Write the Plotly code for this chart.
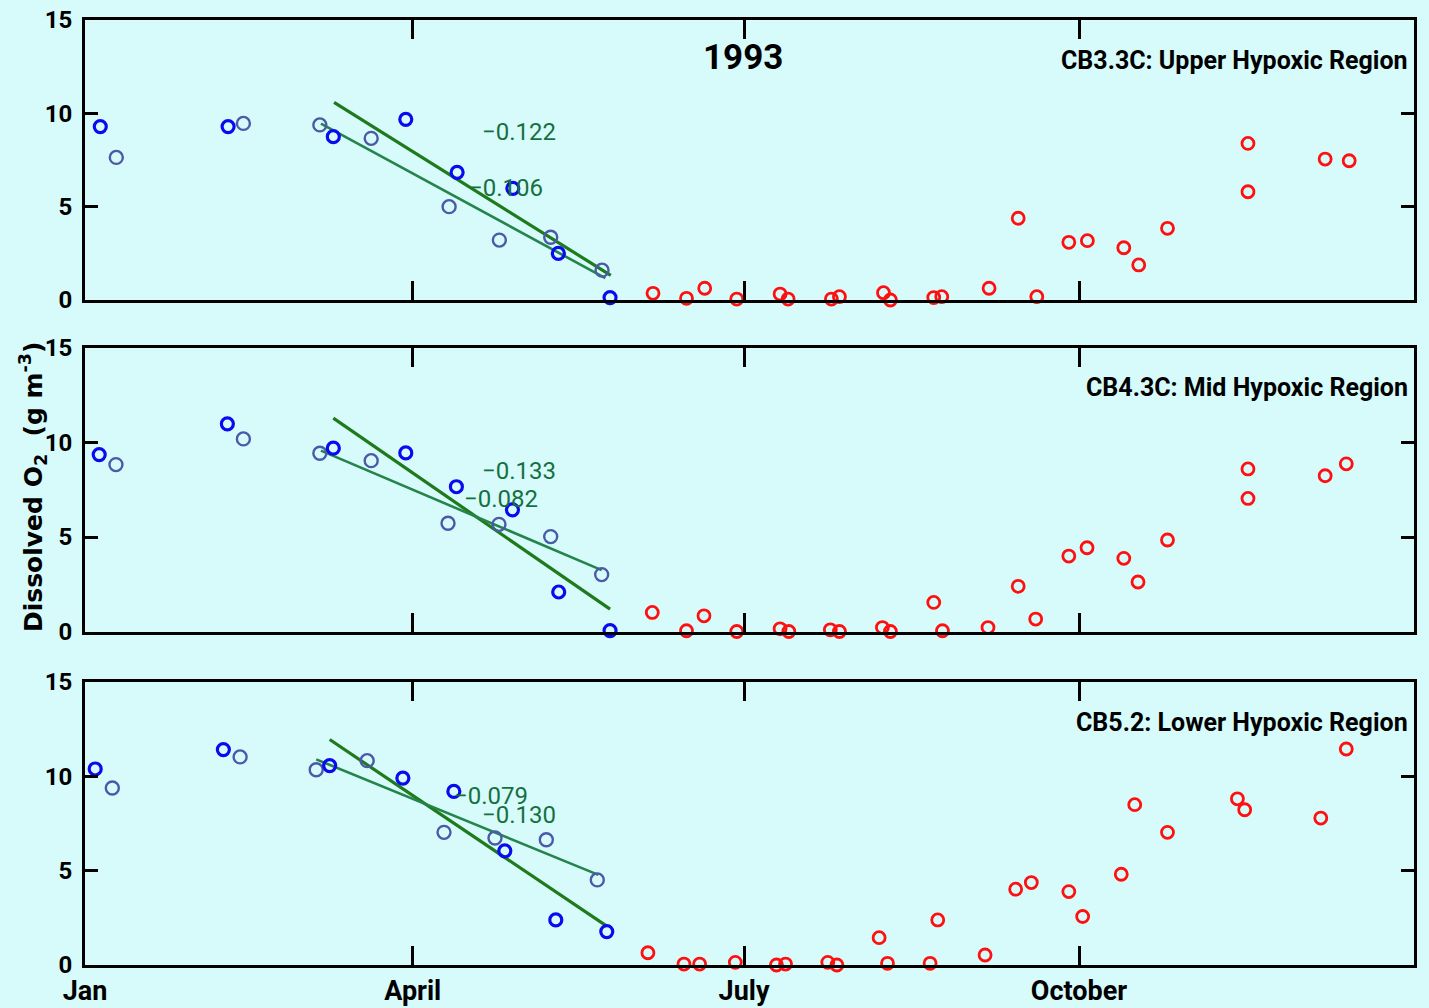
import pandas as pd
import plotly.graph_objects as go

# ---------------------------------------------------------------------------
# Dissolved O2 (g m-3) at three Chesapeake Bay stations, 1993.
# x values are days after 1 January 1993.
# "blue" and "slate" are the two spring sampling series, "red" the summer/autumn.
# ---------------------------------------------------------------------------

# CB3.3C: Upper Hypoxic Region
cb33_blue_day = [4.2, 39.3, 68.2, 88.1, 102.2, 117.5, 130.0, 144.2]
cb33_blue_o2 = [9.29, 9.29, 8.75, 9.68, 6.84, 5.98, 2.50, 0.13]
cb33_slate_day = [8.6, 43.5, 64.5, 78.6, 100.0, 113.8, 127.9, 142.0]
cb33_slate_o2 = [7.64, 9.46, 9.38, 8.66, 5.00, 3.21, 3.36, 1.60]
cb33_red_day = [156.0, 165.2, 170.2, 179.0, 190.9, 193.1, 205.0, 207.2, 219.3, 221.2,
                233.1, 235.3, 248.3, 256.3, 261.4, 270.2, 275.3, 285.3, 289.4, 297.3,
                319.4, 319.4, 340.6, 347.2]
cb33_red_o2 = [0.36, 0.09, 0.63, 0.05, 0.32, 0.05, 0.05, 0.18, 0.39, 0.0,
               0.13, 0.18, 0.63, 4.38, 0.18, 3.09, 3.18, 2.80, 1.88, 3.84,
               8.39, 5.80, 7.55, 7.46]
cb33_fit_slope = [-0.122, -0.106]
cb33_fit_start_o2 = [10.59, 9.45]
cb33_fit_start_day = [68.4, 64.8]
cb33_fit_end_day = [144.4, 142.9]

# CB4.3C: Mid Hypoxic Region
cb43_blue_day = [3.9, 39.1, 68.2, 88.1, 102.0, 117.4, 130.1, 144.2]
cb43_blue_o2 = [9.36, 10.99, 9.70, 9.45, 7.66, 6.44, 2.09, 0.05]
cb43_slate_day = [8.5, 43.5, 64.5, 78.6, 99.7, 113.7, 127.9, 141.9]
cb43_slate_o2 = [8.83, 10.19, 9.43, 9.04, 5.73, 5.67, 5.02, 3.01]
cb43_red_day = [155.8, 165.2, 170.0, 179.0, 190.9, 193.3, 204.7, 207.2, 219.0, 221.2,
                233.1, 235.5, 248.0, 256.3, 261.1, 270.2, 275.2, 285.3, 289.2, 297.3,
                319.4, 319.4, 340.6, 346.4]
cb43_red_o2 = [1.01, 0.04, 0.83, 0.0, 0.14, 0.0, 0.09, 0.0, 0.21, 0.0,
               1.54, 0.04, 0.21, 2.39, 0.66, 3.99, 4.43, 3.87, 2.62, 4.84,
               8.60, 7.04, 8.24, 8.87]
cb43_fit_slope = [-0.133, -0.082]
cb43_fit_start_o2 = [11.29, 9.57]
cb43_fit_start_day = [68.2, 64.8]
cb43_fit_end_day = [144.2, 141.9]

# CB5.2: Lower Hypoxic Region
cb52_blue_day = [2.8, 38.0, 67.2, 87.3, 101.3, 115.3, 129.3, 143.3]
cb52_blue_o2 = [10.39, 11.42, 10.57, 9.91, 9.20, 6.05, 2.39, 1.77]
cb52_slate_day = [7.5, 42.6, 63.5, 77.5, 98.6, 112.6, 126.7, 140.7]
cb52_slate_o2 = [9.38, 11.03, 10.35, 10.83, 7.03, 6.73, 6.64, 4.51]
cb52_red_day = [154.6, 164.5, 168.8, 178.6, 189.9, 192.4, 204.0, 206.5, 218.1, 220.4,
                232.1, 234.2, 247.2, 255.6, 259.9, 270.2, 274.0, 284.6, 288.3, 297.3,
                316.5, 318.5, 339.4, 346.4]
cb52_red_o2 = [0.65, 0.05, 0.05, 0.14, 0.0, 0.05, 0.14, 0.0, 1.45, 0.09,
               0.09, 2.39, 0.53, 4.02, 4.37, 3.89, 2.57, 4.81, 8.50, 7.03,
               8.81, 8.23, 7.79, 11.45]
cb52_fit_slope = [-0.130, -0.079]
cb52_fit_start_o2 = [11.95, 10.90]
cb52_fit_start_day = [67.2, 63.5]
cb52_fit_end_day = [143.3, 141.0]

station_names = ["CB3.3C: Upper Hypoxic Region",
                 "CB4.3C: Mid Hypoxic Region",
                 "CB5.2: Lower Hypoxic Region"]
month_ticks = ["1993-01-01", "1993-04-01", "1993-07-01", "1993-10-01"]
month_labels = ["Jan", "April", "July", "October"]
y_ticks = [0, 5, 10, 15]
year_label = "1993"

# ---------------------------------------------------------------------------
W, H = 1429, 1008
BG = "#d7fbfb"
BLUE = "#0a0af0"
SLATE = "#4a5aa8"
RED = "#ff1010"
FIT_COLORS = ["#1f7a1c", "#25844c"]
FIT_WIDTHS = [3.2, 2.6]
LABEL_GREEN = "#157040"
NARROW = "Roboto, sans-serif"

# outer plotting box in pixels
L_PX, R_PX, T_PX, B_PX = 85, 1414, 20, 965
PW, PH = R_PX - L_PX, B_PX - T_PX

YEAR0 = pd.Timestamp("1993-01-01")


def to_dates(days):
    return [YEAR0 + pd.Timedelta(days=float(d)) for d in days]


def px_x(p):
    return (p - L_PX) / PW


def px_y(p):
    return (B_PX - p) / PH


stations = [
    dict(blue=(cb33_blue_day, cb33_blue_o2), slate=(cb33_slate_day, cb33_slate_o2),
         red=(cb33_red_day, cb33_red_o2), slope=cb33_fit_slope,
         start_o2=cb33_fit_start_o2, start_day=cb33_fit_start_day, end_day=cb33_fit_end_day),
    dict(blue=(cb43_blue_day, cb43_blue_o2), slate=(cb43_slate_day, cb43_slate_o2),
         red=(cb43_red_day, cb43_red_o2), slope=cb43_fit_slope,
         start_o2=cb43_fit_start_o2, start_day=cb43_fit_start_day, end_day=cb43_fit_end_day),
    dict(blue=(cb52_blue_day, cb52_blue_o2), slate=(cb52_slate_day, cb52_slate_o2),
         red=(cb52_red_day, cb52_red_o2), slope=cb52_fit_slope,
         start_o2=cb52_fit_start_o2, start_day=cb52_fit_start_day, end_day=cb52_fit_end_day),
]

# plot-area pixel boxes (top, bottom) for each panel
panel_px = [(20, 300), (348, 631.5), (682, 965)]

# slope-label positions in (day, O2) for each panel, [first fit, second fit]
slope_label_pos = [
    [(119.3, 9.0), (115.7, 6.0)],
    [(119.3, 8.5), (114.3, 7.0)],
    [(119.3, 7.95), (111.6, 8.95)],
]
station_label_y_px = [60, 387, 722]

fig = go.Figure()
layout = dict(
    width=W, height=H,
    margin=dict(l=L_PX, r=W - R_PX, t=T_PX, b=H - B_PX, pad=0, autoexpand=False),
    paper_bgcolor=BG, plot_bgcolor=BG,
    showlegend=False,
    annotations=[],
)

for i, st in enumerate(stations):
    n = i + 1
    xa = "x" if n == 1 else f"x{n}"
    ya = "y" if n == 1 else f"y{n}"
    xkey = "xaxis" if n == 1 else f"xaxis{n}"
    ykey = "yaxis" if n == 1 else f"yaxis{n}"

    # regression lines for the spring decline
    for k in range(2):
        d0, d1 = st["start_day"][k], st["end_day"][k]
        y0 = st["start_o2"][k]
        y1 = y0 + st["slope"][k] * (d1 - d0)
        fig.add_trace(go.Scatter(
            x=to_dates([d0, d1]), y=[y0, y1], mode="lines",
            line=dict(color=FIT_COLORS[k], width=FIT_WIDTHS[k]),
            xaxis=xa, yaxis=ya, hoverinfo="skip"))

    for key, color, lw, sz in [("slate", SLATE, 2.4, 13), ("blue", BLUE, 3.2, 12),
                               ("red", RED, 2.8, 12)]:
        days, vals = st[key]
        fig.add_trace(go.Scatter(
            x=to_dates(days), y=vals, mode="markers", cliponaxis=False,
            marker=dict(symbol="circle-open", size=sz, color=color,
                        line=dict(color=color, width=lw)),
            xaxis=xa, yaxis=ya))

    top_px, bot_px = panel_px[i]
    layout[xkey] = dict(
        domain=[0, 1],
        anchor=ya, type="date",
        range=["1993-01-01", "1994-01-01"],
        tickvals=month_ticks, ticktext=month_labels,
        ticks="inside", ticklen=19, tickwidth=3, tickcolor="black",
        showline=True, linecolor="black", linewidth=3, mirror="ticks",
        showgrid=False, zeroline=False, automargin=False,
        showticklabels=(n == 3),
        tickfont=dict(family=NARROW, size=27, color="black", weight="bold"),
        ticklabelstandoff=0,
    )
    if n != 1:
        layout[xkey]["matches"] = "x"
    layout[ykey] = dict(
        domain=[px_y(bot_px), px_y(top_px)],
        anchor=xa, range=[0, 15],
        tickvals=y_ticks, ticktext=[str(v) for v in y_ticks],
        ticks="inside", ticklen=13, tickwidth=3, tickcolor="black",
        showline=True, linecolor="black", linewidth=3, mirror="ticks",
        showgrid=False, zeroline=False, automargin=False,
        tickfont=dict(family=NARROW, size=24, color="black", weight="bold"),
        ticklabelstandoff=5,
    )

    # station label
    layout["annotations"].append(dict(
        text=station_names[i], xref="paper", yref="paper",
        x=px_x(1410), y=px_y(station_label_y_px[i]),
        xanchor="right", yanchor="middle", showarrow=False,
        font=dict(family=NARROW, size=25, color="black", weight="bold")))

    # slope labels
    for k in range(2):
        d, v = slope_label_pos[i][k]
        layout["annotations"].append(dict(
            text=f"\u2212{abs(st['slope'][k]):.3f}",
            xref=xa, yref=ya, x=YEAR0 + pd.Timedelta(days=d), y=v,
            xanchor="center", yanchor="middle", showarrow=False,
            font=dict(family=NARROW, size=24, color=LABEL_GREEN)))

# year title
layout["annotations"].append(dict(
    text=year_label, xref="paper", yref="paper",
    x=px_x(743), y=px_y(57), xanchor="center", yanchor="middle",
    showarrow=False,
    font=dict(family=NARROW, size=35, color="black", weight="bold")))

# y-axis title
layout["annotations"].append(dict(
    text="Dissolved O<sub>2</sub>  (g m<sup>-3</sup>)",
    xref="paper", yref="paper", x=px_x(33), y=px_y(487),
    xanchor="center", yanchor="middle", textangle=-90, showarrow=False,
    font=dict(family="DejaVu Sans, sans-serif", size=25, color="black", weight="bold")))

fig.update_layout(**layout)
fig.write_html("out.html")
